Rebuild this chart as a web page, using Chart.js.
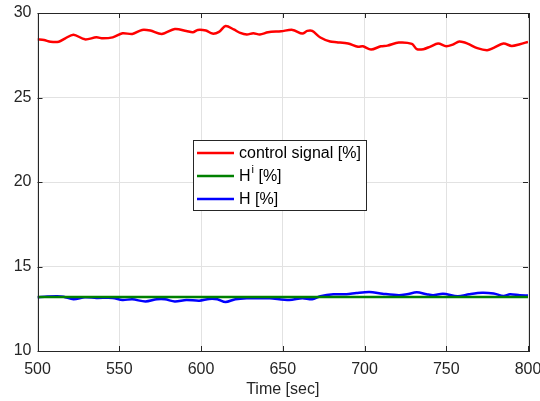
<!DOCTYPE html>
<html>
<head>
<meta charset="utf-8">
<script src="https://cdn.jsdelivr.net/npm/chart.js@4.4.1/dist/chart.umd.min.js"></script>
<style>
  html, body { margin: 0; padding: 0; background: #fff; }
  #wrap { width: 540px; height: 401px; }
</style>
</head>
<body>
<div id="wrap"><canvas id="chart" width="540" height="401"></canvas></div>
<script>
// values
var xTicks = [500, 550, 600, 650, 700, 750, 800];
var yTicks = [10, 15, 20, 25, 30];

var controlTime = [500, 504, 508, 513, 517, 522, 529, 536, 540, 546, 552, 558, 564, 569, 576, 584, 591, 595, 598, 603, 607, 611, 615, 620, 624, 628, 632, 636, 641,
    649, 656, 662, 665, 668, 673, 679, 683, 690, 696, 699, 704, 710, 714, 721, 729, 732, 736, 740, 745, 750, 754, 758, 763, 769, 775, 779, 785, 790, 795, 800];
var controlValues = [28.44, 28.4, 28.3, 28.3, 28.5, 28.72, 28.44, 28.56, 28.5, 28.56, 28.8, 28.76, 29.0, 28.96, 28.76, 29.05, 28.94, 28.86, 29.0, 28.96, 28.78, 28.88, 29.23, 29.03, 28.82, 28.73, 28.8, 28.73, 28.86,
    28.92, 29.0, 28.78, 28.94, 28.94, 28.55, 28.31, 28.27, 28.19, 28.0, 28.03, 27.84, 28.03, 28.07, 28.25, 28.17, 27.86, 27.86, 28.0, 28.19, 28.03, 28.13, 28.31, 28.19, 27.92, 27.8, 27.94, 28.19, 28.05, 28.15, 28.29];

var refTime = [500, 800];
var refValues = [13.2, 13.2];

var hTime = [500, 506, 512, 516, 522, 529, 536, 546, 552, 558, 566, 573, 578, 584, 591, 599, 605, 610, 615, 621, 628, 638,
    642, 654, 662, 668, 673, 681, 689, 695, 703, 711, 721, 726, 732, 738, 742, 748, 757, 764, 772, 779, 785, 789, 795, 800];
var hValues = [13.18, 13.22, 13.24, 13.21, 13.06, 13.18, 13.14, 13.14, 13.02, 13.06, 12.93, 13.06, 13.06, 12.93, 13.02, 12.98, 13.08, 13.06, 12.9, 13.06, 13.12, 13.12,
    13.12, 13.02, 13.12, 13.06, 13.24, 13.36, 13.36, 13.43, 13.49, 13.39, 13.3, 13.36, 13.47, 13.36, 13.3, 13.39, 13.24, 13.36, 13.45, 13.4, 13.26, 13.36, 13.3, 13.28];

var seriesLabels = ['control signal [%]', 'H^i [%]', 'H [%]'];
var seriesColors = ['#ff0000', '#008000', '#0000ff'];

function toPoints(xs, ys) {
    return xs.map((x, i) => ({ x: x, y: ys[i] }));
}

var textColor = '#262626';
var fontFamily = '"Liberation Sans", Arial, sans-serif';

// box, inward ticks and the legend, drawn on top like matlab does
var axesBoxPlugin = {
    id: 'axesBox',
    afterDraw: function (chart) {
        var ctx = chart.ctx;
        var a = chart.chartArea;
        var xs = chart.scales.x, ys = chart.scales.y;
        ctx.save();
        ctx.strokeStyle = textColor;
        ctx.lineWidth = 1;
        ctx.beginPath();
        xTicks.forEach(function (v) {
            var px = Math.round(xs.getPixelForValue(v)) + 0.5;
            ctx.moveTo(px, a.bottom); ctx.lineTo(px, a.bottom - 5);
            ctx.moveTo(px, a.top); ctx.lineTo(px, a.top + 5);
        });
        yTicks.forEach(function (v) {
            var py = Math.round(ys.getPixelForValue(v)) + 0.5;
            ctx.moveTo(a.left, py); ctx.lineTo(a.left + 5, py);
            ctx.moveTo(a.right, py); ctx.lineTo(a.right - 5, py);
        });
        ctx.stroke();
        ctx.strokeRect(Math.round(a.left) + 0.5, Math.round(a.top) + 0.5, Math.round(a.right - a.left), Math.round(a.bottom - a.top));

        // legend
        var lx = 193.5, ly = 140.5, lw = 173, lh = 70;
        ctx.fillStyle = '#fff';
        ctx.fillRect(lx, ly, lw, lh);
        ctx.strokeStyle = textColor;
        ctx.strokeRect(lx, ly, lw, lh);
        var rows = [153, 176, 199];
        ctx.font = '16px ' + fontFamily;
        ctx.textBaseline = 'middle';
        chart.data.datasets.forEach(function (ds, i) {
            var y = rows[i];
            ctx.strokeStyle = ds.borderColor;
            ctx.lineWidth = 2.5;
            ctx.beginPath();
            ctx.moveTo(197, y); ctx.lineTo(234, y);
            ctx.stroke();
            ctx.fillStyle = '#000';
            var parts = ds.label.split('^');
            if (parts.length > 1) {
                ctx.fillText(parts[0], 239, y + 1);
                var w = ctx.measureText(parts[0]).width;
                ctx.font = '11px ' + fontFamily;
                ctx.fillText(parts[1].charAt(0), 239 + w + 1, y - 6);
                var w2 = ctx.measureText(parts[1].charAt(0)).width;
                ctx.font = '16px ' + fontFamily;
                ctx.fillText(parts[1].slice(1), 239 + w + 1 + w2, y + 1);
            } else {
                ctx.fillText(ds.label, 239, y + 1);
            }
        });
        ctx.restore();
    }
};

var datasets = [
    { label: seriesLabels[0], data: toPoints(controlTime, controlValues), borderColor: seriesColors[0] },
    { label: seriesLabels[1], data: toPoints(refTime, refValues), borderColor: seriesColors[1] },
    { label: seriesLabels[2], data: toPoints(hTime, hValues), borderColor: seriesColors[2] }
].map(function (d) {
    d.borderWidth = 2.5;
    d.pointRadius = 0;
    d.tension = 0.3;
    d.fill = false;
    return d;
});

var ctx = document.getElementById('chart').getContext('2d');
var chart = new Chart(ctx, {
    type: 'line',
    data: { datasets: datasets },
    options: {
        responsive: false,
        animation: false,
        layout: { padding: { top: 13, right: 12, left: 0, bottom: 0 } },
        plugins: {
            legend: { display: false },
            tooltip: { enabled: false }
        },
        scales: {
            x: {
                type: 'linear',
                min: 500,
                max: 800,
                afterBuildTicks: function (s) { s.ticks = xTicks.map(v => ({ value: v })); },
                afterFit: function (s) { s.height = 50; s.paddingLeft = 0; s.paddingRight = 0; },
                ticks: { color: textColor, font: { family: fontFamily, size: 16 }, padding: 9, maxRotation: 0 },
                grid: { color: '#e2e2e2', drawTicks: false },
                border: { display: false },
                title: {
                    display: true,
                    text: 'Time [sec]',
                    color: textColor,
                    font: { family: fontFamily, size: 16 },
                    padding: { top: 0, bottom: 2 }
                }
            },
            y: {
                min: 10,
                max: 30,
                afterBuildTicks: function (s) { s.ticks = yTicks.map(v => ({ value: v })); },
                afterFit: function (s) { s.width = 37.5; s.paddingTop = 0; s.paddingBottom = 0; },
                ticks: { color: textColor, font: { family: fontFamily, size: 16 }, padding: 6 },
                grid: { color: '#e2e2e2', drawTicks: false },
                border: { display: false }
            }
        }
    },
    plugins: [axesBoxPlugin]
});
</script>
</body>
</html>
